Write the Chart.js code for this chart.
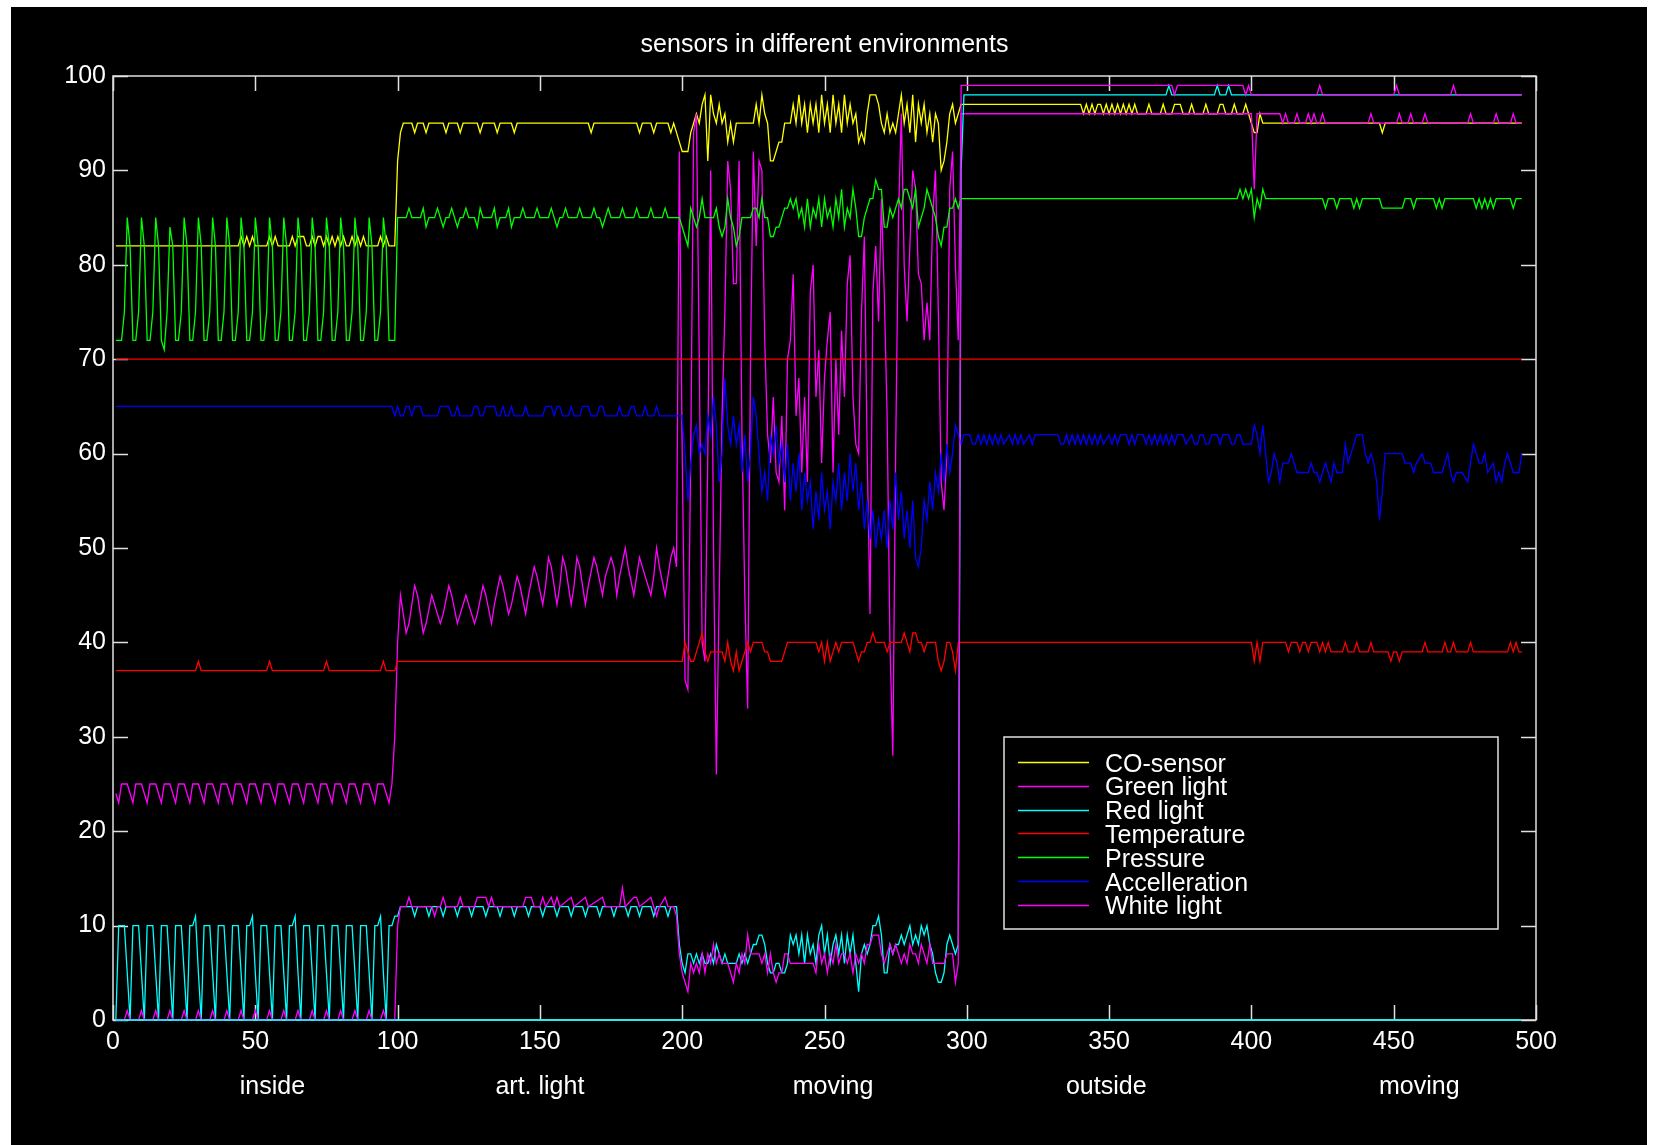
<!DOCTYPE html>
<html>
<head>
<meta charset="utf-8">
<title>sensors in different environments</title>
<script src="https://cdn.jsdelivr.net/npm/chart.js@4.4.1/dist/chart.umd.min.js"></script>
<style>
  html, body { margin: 0; padding: 0; background: #ffffff; }
  canvas { display: block; }
</style>
</head>
<body>
<canvas id="sensorChart" width="1677" height="1145"></canvas>
<script>
// sample index -> reading, vertices as [x, y]; flat runs only keep their ends
const coSensor = [[1,82],[44,82],[45,83],[46,82],[47,83],[48,82],[49,83],[50,82],[54,82],[55,83],[56,82],[57,83],[58,82],[62,82],[63,83],[64,82],[65,83],[67,83],[68,82],[69,82],[70,83],[71,82],[72,83],[73,83],[74,82],[75,83],[76,82],[77,83],[78,82],[79,83],[80,82],[81,83],[82,82],[83,82],[84,83],[85,82],[86,83],[87,82],[88,83],[89,82],[93,82],[94,83],[95,82],[96,83],[97,82],[99,82],[100,91],[101,94],[102,95],[105,95],[106,94],[107,95],[109,95],[110,94],[111,95],[116,95],[117,94],[118,95],[121,95],[122,94],[123,95],[128,95],[129,94],[130,95],[134,95],[135,94],[136,95],[140,95],[141,94],[142,95],[167,95],[168,94],[169,95],[184,95],[185,94],[186,95],[189,95],[190,94],[191,95],[195,95],[196,94],[197,95],[198,94],[199,93],
  [200,92],[202,92],[203,94],[204,95],[205,96],[206,95],[207,97],[208,98],[209,91],[210,98],[211,96],[212,95],[213,97],[214,95],[215,96],[216,93],[217,95],[218,93],[219,95],[225,95],[226,97],[227,95],[228,98],[229,96],[230,95],[231,91],[232,91],[233,92],[234,93],[235,93],[236,95],[238,95],[239,97],[240,95],[241,98],[242,95],[243,97],[244,94],[245,97],[246,95],[247,97],[248,94],[249,98],[250,95],[251,97],[252,94],[253,98],[254,95],[255,97],[256,94],[257,98],[258,95],[259,97],[260,95],[261,96],[262,93],[263,94],[264,93],[265,96],[266,98],[268,98],[269,97],[270,95],[271,94],[272,96],[273,94],[274,95],[275,94],[276,96],[277,98],[278,95],[279,97],[280,94],[281,98],[282,93],[283,97],[284,95],[285,97],[286,94],[287,96],[288,93],[289,96],[290,95],[291,90],[292,91],[293,93],[294,96],[295,97],[296,95],[297,96],[298,97],
  [340,97],[341,96],[342,97],[343,96],[344,97],[345,96],[346,97],[347,97],[348,96],[349,97],[350,96],[351,97],[352,96],[353,97],[354,96],[355,97],[356,96],[357,97],[358,96],[359,97],[360,96],[363,96],[364,97],[365,96],[368,96],[369,97],[370,96],[372,96],[373,97],[375,97],[376,96],[378,96],[379,97],[380,96],[383,96],[384,97],[385,96],[388,96],[389,97],[390,97],[391,96],[393,96],[394,97],[395,96],[397,96],[398,97],[399,96],[400,95],[401,94],[402,94],[403,96],[404,95],[445,95],[446,94],[447,95],[495,95]];

const greenLight = [[1,24],[2,23],[3,25],[5,25],[6,24],[7,23],[8,25],[10,25],[11,24],[12,23],[13,25],[15,25],[16,24],[17,23],[18,25],[20,25],[21,24],[22,23],[23,25],[25,25],[26,24],[27,23],[28,25],[30,25],[31,24],[32,23],[33,25],[35,25],[36,24],[37,23],[38,25],[40,25],[41,24],[42,23],[43,25],[45,25],[46,24],[47,23],[48,25],[50,25],[51,24],[52,23],[53,25],[55,25],[56,24],[57,23],[58,25],[60,25],[61,24],[62,23],[63,25],[65,25],[66,24],[67,23],[68,25],[70,25],[71,24],[72,23],[73,25],[75,25],[76,24],[77,23],[78,25],[80,25],[81,24],[82,23],[83,25],[85,25],[86,24],[87,23],[88,25],[90,25],[91,24],[92,23],[93,25],[95,25],[96,24],[97,23],[98,25],[99,30],[100,40],
  [101,45],[102,43],[103,41],[104,42],[106,46],[107,45],[109,41],[110,42],[112,45],[113,44],[115,42],[116,43],[118,46],[119,45],[121,42],[122,43],[124,45],[125,44],[127,42],[128,43],[130,46],[131,45],[133,42],[134,44],[136,47],[137,46],[139,43],[140,44],[142,47],[143,46],[145,43],[146,45],[148,48],[149,47],[151,44],[152,46],[153,49],[154,48],[156,44],[157,46],[158,49],[159,48],[161,44],[162,46],[163,49],[164,48],[166,44],[167,46],[169,49],[170,48],[172,45],[173,47],[175,49],[176,48],[177,45],[178,47],[180,50],[181,48],[183,45],[184,47],[185,49],[186,48],[189,45],[190,47],[191,50],[192,48],[194,45],[195,47],[196,49],[197,50],[198,48],
  [199,92],[200,60],[201,36],[202,35],[203,60],[204,94],[205,96],[206,70],[207,40],[208,38],[209,60],[210,90],[211,50],[212,26],[213,45],[214,64],[215,75],[216,91],[217,88],[218,78],[219,78],[220,91],[221,62],[222,45],[223,33],[224,70],[225,92],[226,82],[227,91],[228,90],[229,72],[230,62],[231,59],[232,66],[233,58],[234,57],[235,64],[236,54],[237,70],[238,72],[239,79],[240,64],[241,68],[242,58],[243,66],[244,57],[245,77],[246,80],[247,66],[248,71],[249,59],[250,68],[251,72],[252,75],[253,58],[254,70],[255,62],[256,73],[257,66],[258,78],[259,81],[260,66],[261,61],[262,60],[263,75],[264,83],[265,60],[266,43],[267,77],[268,82],[269,74],[270,87],[271,77],[272,64],[273,40],[274,28],[275,60],[276,85],[277,96],[278,80],[279,74],[280,82],[281,90],[282,88],[283,79],[284,78],[285,72],[286,76],[287,72],[288,85],[289,90],[290,75],[291,57],[292,54],[293,60],[294,88],[295,92],[296,80],[297,72],[298,96],
  [400,96],[401,88],[402,96],[410,96],[411,95],[412,96],[413,95],[415,95],[416,96],[417,95],[419,95],[420,96],[421,95],[422,96],[423,95],[424,95],[425,96],[426,95],[441,95],[442,96],[443,95],[451,95],[452,96],[453,95],[455,95],[456,96],[457,95],[460,95],[461,96],[462,95],[476,95],[477,96],[478,95],[485,95],[486,96],[487,95],[491,95],[492,96],[493,95],[495,95]];

const redLight = [[1,0],[2,10],[4,10],[5,5],[6,0],[7,10],[9,10],[10,5],[11,0],[12,10],[14,10],[15,5],[16,0],[17,10],[19,10],[20,5],[21,0],[22,10],[24,10],[25,5],[26,0],[27,10],[28,10],[29,11],[30,5],[31,0],[32,10],[34,10],[35,5],[36,0],[37,10],[39,10],[40,5],[41,0],[42,10],[44,10],[45,5],[46,0],[47,10],[48,10],[49,11],[50,5],[51,0],[52,10],[54,10],[55,5],[56,0],[57,10],[59,10],[60,5],[61,0],[62,10],[63,10],[64,11],[65,5],[66,0],[67,10],[69,10],[70,5],[71,0],[72,10],[74,10],[75,5],[76,0],[77,10],[79,10],[80,5],[81,0],[82,10],[84,10],[85,5],[86,0],[87,10],[89,10],[90,5],[91,0],[92,10],[93,10],[94,11],[95,5],[96,0],[97,10],[98,10],[99,11],[100,11],
  [101,12],[105,12],[106,11],[107,12],[110,12],[111,11],[112,12],[115,12],[116,11],[117,12],[120,12],[121,11],[122,12],[125,12],[126,11],[127,12],[130,12],[131,11],[132,12],[135,12],[136,11],[137,12],[140,12],[141,11],[142,12],[145,12],[146,11],[147,12],[150,12],[151,11],[152,12],[155,12],[156,11],[157,12],[160,12],[161,11],[162,12],[165,12],[166,11],[167,12],[170,12],[171,11],[172,12],[175,12],[176,11],[177,12],[180,12],[181,11],[182,12],[184,12],[185,11],[186,12],[189,12],[190,11],[191,12],[194,12],[195,11],[196,12],[198,12],
  [199,8],[200,6],[201,5],[202,7],[203,7],[204,6],[205,7],[206,6],[207,7],[208,6],[209,6],[210,7],[211,6],[212,8],[213,7],[214,6],[215,7],[216,6],[219,6],[220,7],[221,6],[222,7],[223,6],[224,7],[225,8],[226,8],[227,9],[228,9],[229,8],[230,6],[231,5],[232,5],[233,6],[234,6],[235,5],[236,5],[237,6],[238,9],[239,8],[240,9],[241,7],[242,9],[243,6],[244,9],[245,7],[246,8],[247,6],[248,9],[249,10],[250,7],[251,9],[252,6],[253,8],[254,9],[255,7],[256,9],[257,6],[258,9],[259,7],[260,9],[261,6],[262,3],[263,7],[264,8],[265,7],[266,8],[267,10],[268,10],[269,11],[270,9],[271,5],[272,5],[273,8],[274,7],[275,8],[276,8],[277,9],[278,8],[279,9],[280,10],[281,8],[282,9],[283,8],[284,10],[285,9],[286,10],[287,8],[288,7],[289,5],[290,4],[291,4],[292,5],[293,8],[294,9],[295,8],[296,7],[297,8],[298,90],
  [299,98],[370,98],[371,99],[372,98],[387,98],[388,99],[389,98],[391,98],[392,99],[393,98],[495,98]];

const temperature = [[1,37],[29,37],[30,38],[31,37],[54,37],[55,38],[56,37],[74,37],[75,38],[76,37],[94,37],[95,38],[96,37],[99,37],[100,38],[200,38],
  [201,40],[202,39],[203,38],[204,38],[205,39],[206,40],[207,41],[208,39],[209,38],[210,39],[214,39],[215,38],[216,40],[217,38],[218,37],[219,39],[220,37],[221,38],[222,39],[223,40],[224,39],[225,40],[228,40],[229,39],[230,39],[231,38],[235,38],[236,39],[237,40],[247,40],[248,39],[249,40],[250,38],[251,40],[252,38],[253,39],[254,40],[255,39],[256,40],[260,40],[261,39],[262,38],[263,39],[264,39],[265,40],[266,40],[267,41],[268,40],[271,40],[272,39],[273,40],[277,40],[278,41],[279,40],[280,39],[281,41],[282,41],[283,40],[284,40],[285,39],[286,40],[289,40],[290,38],[291,37],[292,38],[293,40],[294,40],[295,39],[296,37],[297,40],
  [400,40],[401,38],[402,40],[403,38],[404,40],[412,40],[413,39],[414,40],[416,40],[417,39],[418,40],[419,40],[420,39],[421,40],[423,40],[424,39],[425,40],[426,39],[427,40],[428,39],[432,39],[433,40],[434,39],[436,39],[437,40],[438,39],[441,39],[442,40],[443,39],[448,39],[449,38],[450,39],[451,39],[452,38],[453,39],[460,39],[461,40],[462,39],[467,39],[468,40],[469,39],[470,39],[471,40],[472,39],[476,39],[477,40],[478,39],[490,39],[491,40],[492,39],[493,40],[494,39],[495,39]];

const pressure = [[1,72],[3,72],[4,75],[5,85],[6,82],[7,72],[8,72],[9,75],[10,85],[11,82],[12,72],[13,72],[14,75],[15,85],[16,82],[17,72],[18,71],[19,75],[20,84],[21,82],[22,72],[23,72],[24,75],[25,85],[26,82],[27,72],[28,72],[29,75],[30,85],[31,82],[32,72],[33,72],[34,75],[35,85],[36,82],[37,72],[38,72],[39,75],[40,85],[41,82],[42,72],[43,72],[44,75],[45,85],[46,82],[47,72],[48,72],[49,75],[50,85],[51,82],[52,72],[53,72],[54,75],[55,85],[56,82],[57,72],[58,72],[59,75],[60,85],[61,82],[62,72],[63,72],[64,75],[65,85],[66,82],[67,72],[68,72],[69,75],[70,85],[71,82],[72,72],[73,72],[74,75],[75,85],[76,82],[77,72],[78,72],[79,75],[80,85],[81,82],[82,72],[83,72],[84,75],[85,85],[86,82],[87,72],[88,72],[89,75],[90,85],[91,82],[92,72],[93,72],[94,75],[95,85],[96,82],[97,72],[98,72],[99,72],
  [100,85],[103,85],[104,86],[105,85],[108,85],[109,86],[110,84],[111,85],[113,85],[114,86],[115,85],[116,84],[117,85],[118,85],[119,86],[120,85],[121,84],[122,85],[123,85],[124,86],[125,85],[127,85],[128,84],[129,86],[130,85],[133,85],[134,86],[135,84],[136,85],[138,85],[139,86],[140,84],[141,85],[143,85],[144,86],[145,85],[148,85],[149,86],[150,85],[153,85],[154,86],[155,85],[156,84],[157,85],[158,85],[159,86],[160,85],[163,85],[164,86],[165,85],[168,85],[169,86],[170,85],[171,85],[172,84],[173,85],[174,86],[175,85],[178,85],[179,86],[180,85],[183,85],[184,86],[185,85],[188,85],[189,86],[190,85],[193,85],[194,86],[195,85],[199,85],
  [200,84],[201,83],[202,82],[203,86],[204,85],[205,84],[206,85],[207,87],[208,85],[211,85],[212,86],[213,84],[214,83],[215,84],[216,87],[217,85],[218,84],[219,82],[220,83],[221,85],[224,85],[225,86],[226,86],[227,85],[228,87],[229,85],[230,85],[231,83],[232,83],[233,84],[234,84],[235,85],[236,86],[237,86],[238,87],[239,86],[240,87],[241,85],[242,86],[243,84],[244,87],[245,84],[246,86],[247,85],[248,87],[249,84],[250,87],[251,85],[252,86],[253,84],[254,87],[255,85],[256,88],[257,84],[258,86],[259,85],[260,88],[261,86],[262,83],[263,83],[264,85],[265,86],[266,87],[267,87],[268,89],[269,88],[270,88],[271,84],[272,84],[273,86],[274,85],[275,86],[276,87],[277,86],[278,88],[279,88],[280,87],[281,86],[282,88],[283,84],[284,85],[285,86],[286,88],[287,87],[288,86],[289,85],[290,83],[291,82],[292,84],[293,84],[294,86],[295,86],[296,87],[297,86],[298,87],
  [395,87],[396,88],[397,87],[398,88],[399,87],[400,88],[401,85],[402,87],[403,86],[404,88],[405,87],[425,87],[426,86],[427,87],[429,87],[430,86],[431,87],[435,87],[436,86],[437,87],[438,86],[439,87],[445,87],[446,86],[453,86],[454,87],[456,87],[457,86],[458,87],[464,87],[465,86],[466,87],[467,86],[468,87],[478,87],[479,86],[480,87],[481,86],[482,87],[483,86],[484,87],[485,86],[486,87],[491,87],[492,86],[493,87],[495,87]];

const acceleration = [[1,65],[98,65],[99,64],[100,65],[101,64],[102,64],[103,65],[104,65],[105,64],[106,65],[108,65],[109,64],[114,64],[115,65],[118,65],[119,64],[120,64],[121,65],[122,64],[126,64],[127,65],[128,65],[129,64],[130,64],[131,65],[134,65],[135,64],[136,64],[137,65],[138,64],[139,64],[140,65],[141,64],[144,64],[145,65],[146,64],[151,64],[152,65],[154,65],[155,64],[156,65],[157,65],[158,64],[160,64],[161,65],[162,64],[164,64],[165,65],[167,65],[168,64],[170,64],[171,65],[172,65],[173,64],[177,64],[178,65],[179,64],[181,64],[182,65],[183,65],[184,64],[186,64],[187,65],[188,64],[190,64],[191,65],[192,64],[199,64],
  [200,64],[201,60],[202,55],[203,59],[204,62],[205,63],[206,60],[207,61],[208,60],[209,64],[210,62],[211,66],[212,63],[213,57],[214,60],[215,68],[216,63],[217,61],[218,64],[219,61],[220,63],[221,58],[222,62],[223,57],[224,60],[225,66],[226,64],[227,60],[228,56],[229,58],[230,55],[231,62],[232,60],[233,63],[234,59],[235,61],[236,57],[237,61],[238,55],[239,59],[240,56],[241,60],[242,54],[243,58],[244,55],[245,57],[246,52],[247,56],[248,53],[249,58],[250,54],[251,56],[252,52],[253,57],[254,55],[255,59],[256,54],[257,58],[258,55],[259,60],[260,56],[261,59],[262,54],[263,57],[264,52],[265,55],[266,51],[267,54],[268,50],[269,53],[270,51],[271,54],[272,50],[273,55],[274,52],[275,58],[276,53],[277,56],[278,51],[279,54],[280,50],[281,55],[282,49],[283,48],[284,50],[285,55],[286,53],[287,57],[288,54],[289,58],[290,56],[291,60],[292,57],[293,61],[294,58],[295,60],[296,63],[297,62],[298,61],[299,62],
  [301,62],[302,61],[303,61],[304,62],[305,61],[306,62],[307,61],[308,62],[309,61],[310,62],[311,61],[312,62],[313,61],[315,62],[316,61],[317,62],[318,61],[319,62],[320,61],[322,62],[323,61],[324,62],[332,62],[333,61],[334,61],[335,62],[336,61],[337,62],[338,61],[339,62],[340,61],[341,62],[342,61],[343,62],[344,61],[345,62],[346,61],[347,62],[348,61],[350,62],[351,61],[352,62],[353,61],[354,62],[356,62],[357,61],[358,62],[359,61],[360,62],[362,62],[363,61],[364,62],[365,61],[366,62],[367,61],[368,62],[369,61],[370,62],[371,61],[372,62],[373,61],[374,62],[376,62],[377,61],[379,62],[380,61],[381,61],[382,62],[383,62],[384,61],[385,61],[386,62],[388,62],[389,61],[390,62],[392,62],[393,61],[394,61],[395,62],[396,62],[397,61],[400,61],
  [401,63],[402,62],[403,60],[404,63],[405,60],[406,57],[407,58],[408,60],[409,59],[410,57],[411,59],[413,59],[414,60],[415,59],[416,58],[420,58],[421,59],[422,58],[423,58],[424,57],[426,59],[427,58],[428,57],[429,59],[430,58],[432,58],[433,61],[434,59],[435,60],[436,61],[437,62],[439,62],[440,60],[441,59],[442,60],[443,59],[444,57],[445,53],[446,56],[447,60],[453,60],[454,59],[456,59],[457,58],[458,59],[460,60],[461,59],[463,59],[464,58],[467,58],[468,59],[469,60],[470,58],[471,57],[472,58],[474,58],[476,57],[477,59],[478,61],[480,59],[481,59],[482,60],[483,58],[485,59],[486,57],[487,58],[488,57],[489,59],[490,60],[491,59],[492,58],[494,58],[495,60]];

const whiteLight = [[1,0],[4,0],[5,1],[6,0],[9,0],[10,1],[11,0],[14,0],[15,1],[16,0],[19,0],[20,1],[21,0],[24,0],[25,1],[26,0],[29,0],[30,1],[31,0],[34,0],[35,1],[36,0],[39,0],[40,1],[41,0],[44,0],[45,1],[46,0],[49,0],[50,1],[51,0],[54,0],[55,1],[56,0],[59,0],[60,1],[61,0],[64,0],[65,1],[66,0],[69,0],[70,1],[71,0],[74,0],[75,1],[76,0],[79,0],[80,1],[81,0],[84,0],[85,1],[86,0],[89,0],[90,1],[91,0],[94,0],[95,1],[96,0],[99,0],[100,10],
  [101,12],[103,12],[104,13],[105,12],[112,12],[113,11],[114,12],[115,12],[116,13],[117,12],[121,12],[122,13],[123,12],[127,12],[128,13],[131,13],[132,12],[133,13],[134,12],[144,12],[145,13],[147,13],[148,12],[150,12],[151,13],[152,12],[154,13],[155,12],[156,13],[157,12],[161,13],[162,12],[166,13],[167,12],[172,13],[173,12],[178,12],[179,14],[180,12],[183,13],[184,13],[185,12],[189,13],[190,12],[191,11],[192,12],[194,13],[195,12],[197,12],[198,11],
  [199,7],[200,5],[201,4],[202,3],[203,6],[204,5],[205,6],[206,5],[207,7],[208,5],[209,7],[210,6],[211,8],[212,6],[213,7],[214,6],[216,6],[217,5],[218,4],[219,6],[220,5],[221,7],[222,6],[223,9],[224,7],[227,7],[228,6],[229,7],[230,5],[231,7],[232,5],[233,4],[234,5],[235,5],[236,7],[237,7],[238,6],[246,6],[247,5],[248,8],[249,6],[250,7],[251,5],[252,7],[253,6],[254,8],[255,6],[256,7],[257,7],[258,6],[259,7],[260,5],[261,7],[262,6],[263,7],[264,6],[265,8],[266,8],[267,9],[269,9],[270,7],[271,6],[272,7],[273,8],[274,7],[275,8],[276,7],[277,6],[278,7],[279,6],[280,8],[281,7],[282,7],[283,6],[284,8],[285,7],[286,6],[287,8],[288,6],[292,6],[293,7],[295,7],[296,4],[297,6],
  [298,99],[372,99],[373,98],[374,99],[397,99],[398,98],[399,99],[400,98],[423,98],[424,99],[425,98],[450,98],[451,99],[452,98],[470,98],[471,99],[472,98],[495,98]];

// two plain reference lines that sit in the plot without a legend entry
const redReference = [[1,70],[495,70]];
const cyanBaseline = [[1,0],[495,0]];

const seriesNames = ['CO-sensor', 'Green light', 'Red light', 'Temperature', 'Pressure', 'Accelleration', 'White light'];
const seriesColors = ['#ffff00', '#ff00ff', '#00ffff', '#ff0000', '#00ff00', '#0000ff', '#ff00ff'];
const seriesData = [coSensor, greenLight, redLight, temperature, pressure, acceleration, whiteLight];

const envLabels = ['inside', 'art. light', 'moving', 'outside', 'moving'];
const envPositions = [56, 150, 253, 349, 459];

const chartTitle = 'sensors in different environments';
const textFont = '"Liberation Sans", Arial, sans-serif';

function toPoints(arr) {
    return arr.map(p => ({ x: p[0], y: p[1] }));
}

const datasets = seriesData.map((arr, i) => ({
    label: seriesNames[i],
    data: toPoints(arr),
    borderColor: seriesColors[i],
    borderWidth: 1.3,
    pointRadius: 0,
    tension: 0,
    fill: false,
    clip: false,
    order: 8 - i   // later series drawn on top, like the original plot
}));
datasets.push({ label: 'ref70', data: toPoints(redReference), borderColor: '#ff0000', borderWidth: 1.3, pointRadius: 0, clip: false, order: 1 });
datasets.push({ label: 'base0', data: toPoints(cyanBaseline), borderColor: '#00ffff', borderWidth: 1.6, pointRadius: 0, clip: false, order: 0 });

// black figure, boxed axes with inward ticks, legend box, title and environment labels
const matlabLook = {
    id: 'matlabLook',
    beforeDraw(chart) {
        const ctx = chart.ctx;
        ctx.save();
        ctx.fillStyle = '#ffffff';
        ctx.fillRect(0, 0, chart.width, chart.height);
        ctx.fillStyle = '#000000';
        ctx.fillRect(11, 7, 1636, 1138);
        ctx.restore();
    },
    beforeDatasetsDraw(chart) {
        const ctx = chart.ctx;
        const a = chart.chartArea;
        const xs = chart.scales.x, ys = chart.scales.y;
        ctx.save();
        ctx.strokeStyle = '#e0e0e0';
        ctx.lineWidth = 1.5;
        ctx.strokeRect(a.left, a.top, a.right - a.left, a.bottom - a.top);
        ctx.beginPath();
        xs.ticks.forEach(t => {
            const px = Math.round(xs.getPixelForValue(t.value)) + 0.5;
            ctx.moveTo(px, a.bottom); ctx.lineTo(px, a.bottom - 15);
            ctx.moveTo(px, a.top); ctx.lineTo(px, a.top + 15);
        });
        ys.ticks.forEach(t => {
            const py = Math.round(ys.getPixelForValue(t.value)) + 0.5;
            ctx.moveTo(a.left, py); ctx.lineTo(a.left + 15, py);
            ctx.moveTo(a.right, py); ctx.lineTo(a.right - 15, py);
        });
        ctx.stroke();
        ctx.restore();
    },
    afterDatasetsDraw(chart) {
        const ctx = chart.ctx;
        ctx.save();
        // legend
        ctx.fillStyle = '#000000';
        ctx.fillRect(1004, 737, 494, 192);
        ctx.strokeStyle = '#e0e0e0';
        ctx.lineWidth = 1.5;
        ctx.strokeRect(1004, 737, 494, 192);
        ctx.font = '25px ' + textFont;
        ctx.textBaseline = 'alphabetic';
        ctx.textAlign = 'left';
        seriesNames.forEach((name, i) => {
            const y = 762 + i * 23.8;
            ctx.strokeStyle = seriesColors[i];
            ctx.lineWidth = 1.5;
            ctx.beginPath();
            ctx.moveTo(1018, Math.round(y) + 0.5);
            ctx.lineTo(1089, Math.round(y) + 0.5);
            ctx.stroke();
            ctx.fillStyle = '#ffffff';
            ctx.fillText(name, 1105, y + 9.5);
        });
        ctx.restore();
    },
    afterDraw(chart) {
        const ctx = chart.ctx;
        const a = chart.chartArea;
        const xs = chart.scales.x;
        ctx.save();
        ctx.fillStyle = '#ffffff';
        ctx.font = '25px ' + textFont;
        ctx.textAlign = 'center';
        ctx.textBaseline = 'middle';
        ctx.fillText(chartTitle, (a.left + a.right) / 2, 45);
        envLabels.forEach((lab, i) => {
            ctx.fillText(lab, xs.getPixelForValue(envPositions[i]), 1087);
        });
        ctx.restore();
    }
};

const ctx = document.getElementById('sensorChart');
new Chart(ctx, {
    type: 'line',
    data: { datasets: datasets },
    options: {
        responsive: false,
        animation: false,
        devicePixelRatio: 1,
        layout: { padding: { top: 76, right: 141, bottom: 0, left: 0 } },
        plugins: {
            legend: { display: false },
            title: { display: false },
            tooltip: { enabled: false }
        },
        scales: {
            x: {
                type: 'linear',
                min: 0,
                max: 500,
                grid: { display: false, drawTicks: false },
                border: { display: false },
                ticks: { stepSize: 50, color: '#ffffff', padding: 7, maxRotation: 0, font: { size: 25, family: textFont } },
                afterFit(scale) { scale.height = 125; }
            },
            y: {
                min: 0,
                max: 100,
                grid: { display: false, drawTicks: false },
                border: { display: false },
                ticks: { stepSize: 10, color: '#ffffff', padding: 7, font: { size: 25, family: textFont } },
                afterFit(scale) { scale.width = 113; }
            }
        }
    },
    plugins: [matlabLook]
});
</script>
</body>
</html>
